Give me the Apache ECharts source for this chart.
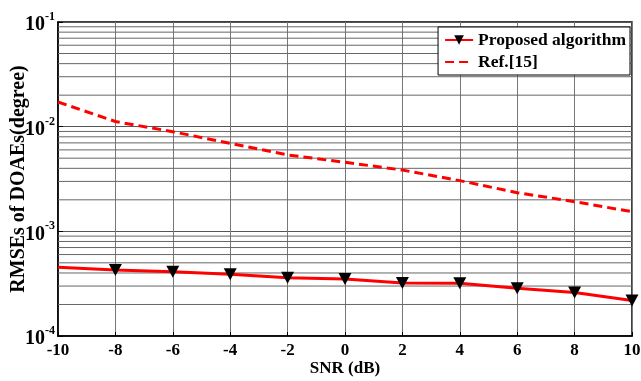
<!DOCTYPE html>
<html>
<head>
<meta charset="utf-8">
<script src="https://cdn.jsdelivr.net/npm/echarts@6/dist/echarts.min.js"></script>
<style>
  html, body { margin: 0; padding: 0; background: #fff; }
  #chart { width: 641px; height: 381px; }
</style>
</head>
<body>
<div id="chart"></div>
<script>
// x values (dB)
const snr = [-10, -8, -6, -4, -2, 0, 2, 4, 6, 8, 10];
// RMSE values
const proposed = [0.000454, 0.000427, 0.000412, 0.000389, 0.000361, 0.000351, 0.000321, 0.000319, 0.000286, 0.00026, 0.000218];
const ref15 = [0.0172, 0.0112, 0.00895, 0.00693, 0.00537, 0.00457, 0.00385, 0.00305, 0.00234, 0.00192, 0.00154];
// minor log grid lines (2..9 of each decade)
const minorGrid = [];
[1e-4, 1e-3, 1e-2].forEach((d) => {
    for (let k = 2; k <= 9; k++) minorGrid.push(+(d * k).toPrecision(3));
});

const font = '"Liberation Serif", "Times New Roman", serif';
const chart = echarts.init(document.getElementById('chart'));

// one thin line per minor grid value, drawn through the axes
const gridSeries = minorGrid.map((v, i) => ({
    name: 'minor' + i,
    type: 'line',
    silent: true,
    z: 1,
    symbol: 'none',
    lineStyle: { color: '#666', width: 1 },
    data: [[-10, v], [10, v]]
}));

const options = {
    animation: false,
    grid: {
        left: 58, right: 9, top: 22, bottom: 45,
        outerBoundsMode: 'none',
        show: true, borderColor: '#000', borderWidth: 1.5
    },
    legend: {
        orient: 'vertical',
        right: 11,
        top: 27,
        backgroundColor: '#fff',
        borderColor: '#000',
        borderWidth: 1,
        padding: [4, 4, 4, 6],
        itemGap: 4,
        itemWidth: 28,
        itemHeight: 12,
        textStyle: { fontFamily: font, fontWeight: 'bold', fontSize: 17.5, color: '#000' },
        data: ['Proposed algorithm', { name: 'Ref.[15]', itemStyle: { opacity: 0 } }]
    },
    xAxis: {
        type: 'value',
        min: -10, max: 10, interval: 2,
        name: 'SNR (dB)',
        nameLocation: 'middle',
        nameMoveOverlap: false,
        nameGap: 24,
        nameTextStyle: { fontFamily: font, fontWeight: 'bold', fontSize: 17, color: '#000' },
        axisLine: { onZero: false, lineStyle: { color: '#000', width: 1.5 } },
        axisTick: { inside: true, length: 4, lineStyle: { color: '#000' } },
        axisLabel: { fontFamily: font, fontWeight: 'bold', fontSize: 17, color: '#000', margin: 6 },
        splitLine: { show: true, lineStyle: { color: '#777', width: 1 } }
    },
    yAxis: {
        type: 'log',
        logBase: 10,
        min: 1e-4, max: 1e-1,
        name: 'RMSEs of DOAEs(degree)',
        nameLocation: 'middle',
        nameMoveOverlap: false,
        nameGap: 29,
        nameTextStyle: { fontFamily: font, fontWeight: 'bold', fontSize: 20, color: '#000' },
        axisLine: { show: true, onZero: false, lineStyle: { color: '#000', width: 1.5 } },
        axisTick: { inside: true, length: 5, lineStyle: { color: '#000' } },
        axisLabel: {
            margin: 3,
            formatter: (v) => '{b|10}{s|' + Math.round(Math.log10(v)) + '}',
            rich: {
                b: { fontFamily: font, fontWeight: 'bold', fontSize: 20, color: '#000', padding: [6, 0, 0, 0] },
                s: { fontFamily: font, fontWeight: 'bold', fontSize: 12, color: '#000', padding: [0, 0, 10, 0] }
            }
        },
        splitLine: { show: true, lineStyle: { color: '#555', width: 1 } }
    },
    series: gridSeries.concat([
        {
            name: 'Proposed algorithm',
            type: 'line',
            z: 10,
            color: '#ff0000',
            lineStyle: { width: 3, color: '#ff0000' },
            symbol: 'path://M0,0 L10,0 L5,9 Z',
            symbolSize: [13, 12],
            itemStyle: { color: '#000' },
            data: snr.map((x, i) => (i === 0 ? { value: [x, proposed[i]], symbol: 'none' } : [x, proposed[i]]))
        },
        {
            name: 'Ref.[15]',
            type: 'line',
            z: 10,
            color: '#ff0000',
            symbol: 'none',
            lineStyle: { width: 3, color: '#ff0000', type: [9, 5] },
            data: snr.map((x, i) => [x, ref15[i]])
        }
    ])
};

chart.setOption(options);
</script>
</body>
</html>
